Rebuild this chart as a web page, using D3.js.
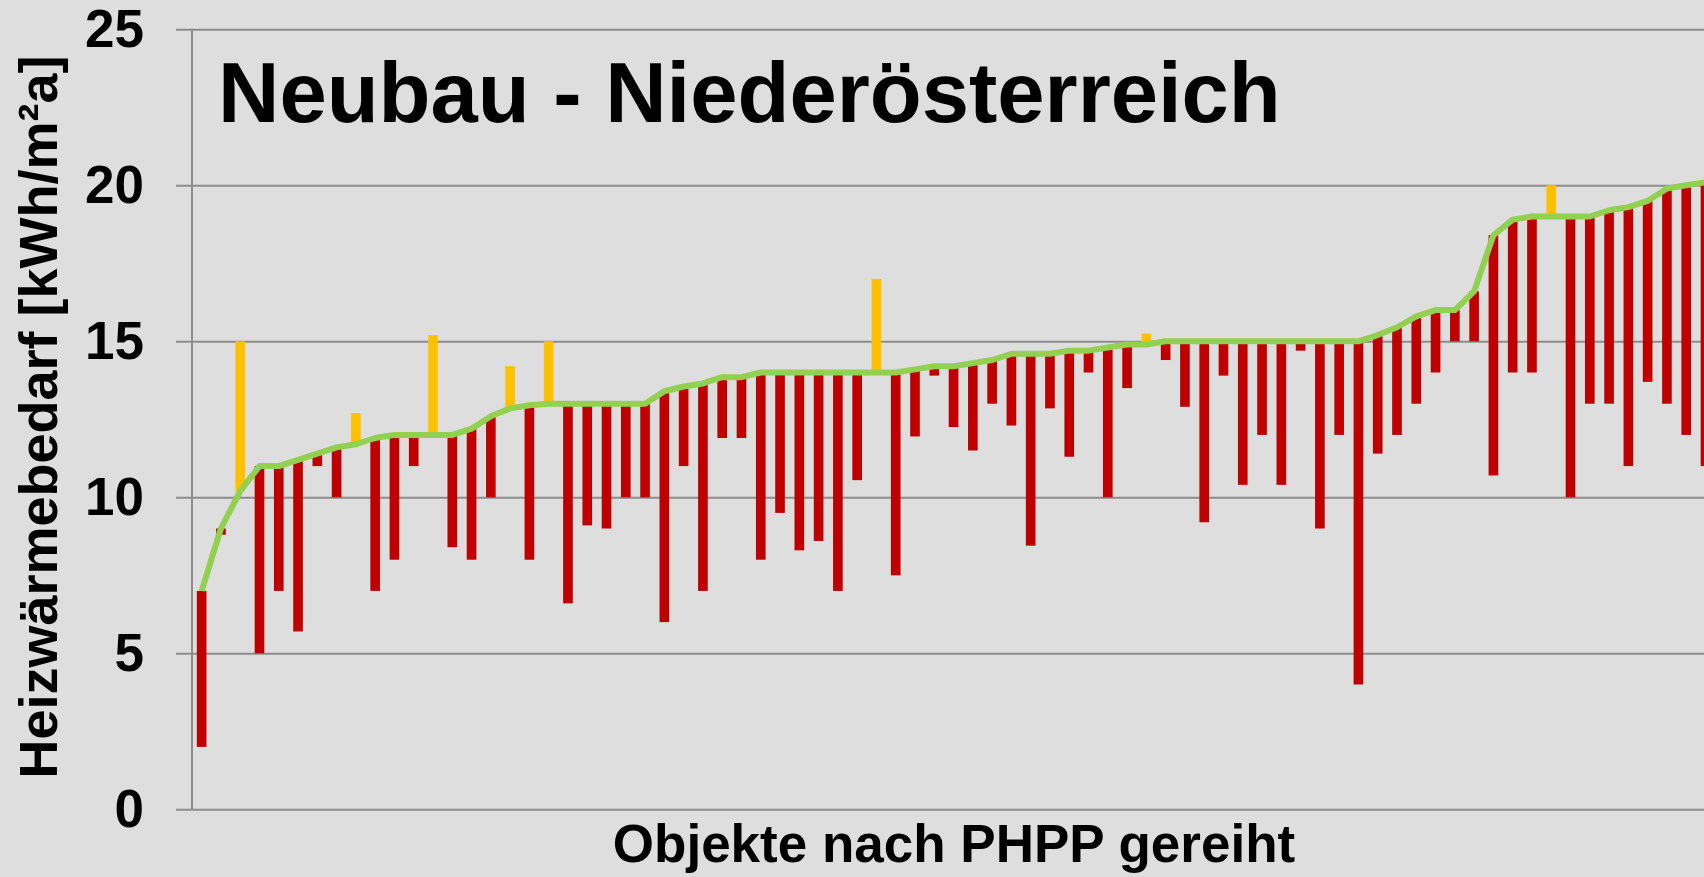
<!DOCTYPE html>
<html>
<head>
<meta charset="utf-8">
<script src="https://cdn.jsdelivr.net/npm/d3@7"></script>
<style>
	html, body { margin: 0; padding: 0; background: #dedede; overflow: hidden; }
	svg { display: block; }
	text { font-family: Arial, "Liberation Sans", sans-serif; font-weight: bold; fill: #000; }
</style>
</head>
<body>
<div id="chart"></div>
<script>
// values, objects sorted by PHPP value
const phppValues = [
	7, 9, 10.2, 11, 11, 11.2, 11.4, 11.6, 11.7, 11.9,
	12, 12, 12, 12, 12.2, 12.6, 12.85, 12.95, 13, 13,
	13, 13, 13, 13, 13.4, 13.55, 13.65, 13.85, 13.85, 14,
	14, 14, 14, 14, 14, 14, 14, 14.1, 14.2, 14.2,
	14.3, 14.4, 14.6, 14.6, 14.6, 14.7, 14.7, 14.8, 14.9, 14.9,
	15, 15, 15, 15, 15, 15, 15, 15, 15, 15,
	15, 15.2, 15.45, 15.8, 16, 16, 16.6, 18.4, 18.9, 19,
	19, 19, 19, 19.2, 19.3, 19.5, 19.9, 20, 20.1
]
const measuredValues = [
	2, 8.8, 15, 5, 7, 5.7, 11, 10, 12.7, 7,
	8, 11, 15.2, 8.4, 8, 10, 14.2, 8, 15, 6.6,
	9.1, 9, 10, 10, 6, 11, 7, 11.9, 11.9, 8,
	9.5, 8.3, 8.6, 7, 10.55, 17, 7.5, 11.95, 13.9, 12.25,
	11.5, 13, 12.3, 8.45, 12.85, 11.3, 14, 10, 13.5, 15.25,
	14.4, 12.9, 9.2, 13.9, 10.4, 12, 10.4, 14.7, 9, 12,
	4, 11.4, 12, 13, 14, 15, 15, 10.7, 14, 14,
	20, 10, 13, 13, 11, 13.7, 13, 12, 11
]
const yTicks = [0, 5, 10, 15, 20, 25]

const titleText = 'Neubau - Niederösterreich'
const yTitle = 'Heizwärmebedarf [kWh/m²a]'
const xTitle = 'Objekte nach PHPP gereiht'

const colors = { below: '#c00000', above: '#ffc000', line: '#92d050', grid: '#8c8c8c' }

class Chart {

	constructor(el) {
		let width = this.width = 1704
		let height = this.height = 877
		this.svg = d3.select(el).append('svg')
			.attr('width', width)
			.attr('height', height)

		this.left = 192
		this.step = 19.28
		this.x = d3.scaleBand()
			.domain(d3.range(phppValues.length))
			.range([this.left, this.left + this.step * phppValues.length])
			.paddingInner(0.5)
			.paddingOuter(0.25)
		this.y = d3.scaleLinear().domain([0, 25]).range([809.3, 29.3])
	}

	draw() {
		let { svg, x, y, width } = this
		let cx = i => x(i) + x.bandwidth() / 2

		// grid + tick labels
		svg.append('g')
			.attr('transform', 'translate(176,0)')
			.call(d3.axisLeft(y).tickValues(yTicks).tickSize(-(width - 176)).tickPadding(32))
			.call(g => g.select('.domain').remove())
			.call(g => g.selectAll('line').attr('stroke', colors.grid).attr('stroke-width', 2))
			.call(g => g.selectAll('text')
				.attr('font-size', 53)
				.attr('font-family', 'Arial, "Liberation Sans", sans-serif')
				.attr('font-weight', 'bold')
				.attr('fill', '#000'))

		svg.append('line')
			.attr('x1', this.left).attr('x2', this.left)
			.attr('y1', y(25)).attr('y2', y(0))
			.attr('stroke', colors.grid)
			.attr('stroke-width', 2)

		// difference bars, from PHPP value to measured value
		svg.append('g').selectAll('rect')
			.data(phppValues)
			.join('rect')
			.attr('x', (d, i) => x(i))
			.attr('width', x.bandwidth())
			.attr('y', (d, i) => y(Math.max(d, measuredValues[i])))
			.attr('height', (d, i) => Math.abs(y(d) - y(measuredValues[i])))
			.attr('fill', (d, i) => measuredValues[i] > d ? colors.above : colors.below)

		// PHPP line
		svg.append('path')
			.datum(phppValues)
			.attr('fill', 'none')
			.attr('stroke', colors.line)
			.attr('stroke-width', 6)
			.attr('stroke-linejoin', 'round')
			.attr('d', d3.line().x((d, i) => cx(i)).y(d => y(d)))

		// texts
		svg.append('text')
			.attr('x', 218)
			.attr('y', 122)
			.attr('font-size', 85)
			.text(titleText)

		svg.append('text')
			.attr('transform', 'translate(57,417) rotate(-90)')
			.attr('text-anchor', 'middle')
			.attr('font-size', 54)
			.text(yTitle)

		svg.append('text')
			.attr('x', 954)
			.attr('y', 862)
			.attr('text-anchor', 'middle')
			.attr('font-size', 53)
			.text(xTitle)
	}
}

new Chart('#chart').draw()
</script>
</body>
</html>
